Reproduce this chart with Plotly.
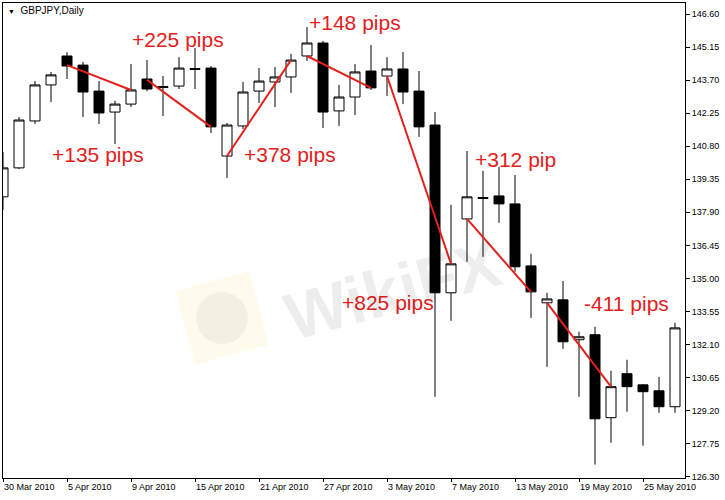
"""
GBPJPY daily candles (30 Mar - 27 May 2010) with swing lines and pip counts,
drawn in the MetaTrader style.
"""

import math

import pandas as pd
import plotly.graph_objects as go

##################################
## Data
##################################

dates = pd.bdate_range("2010-03-30", "2010-05-27")
date_labels = [f"{d.day} {d.strftime('%b %Y')}" for d in dates]

opens = [
    138.58, 139.85, 141.91, 143.49, 144.76, 144.36, 143.22, 142.30, 142.65, 143.75,
    143.42, 143.44, 144.21, 144.23, 140.37, 141.69, 143.22, 143.62, 143.84, 144.76,
    145.33, 142.35, 142.96, 144.10, 143.88, 144.19, 143.22, 141.73, 134.37, 137.61,
    138.55, 138.62, 138.27, 135.55, 133.93, 134.06, 132.31, 132.53, 128.89, 130.82,
    130.33, 130.07, 129.37,
]
highs = [
    140.55, 142.08, 143.66, 144.06, 144.93, 144.50, 143.66, 142.79, 144.41, 144.58,
    143.88, 144.71, 145.11, 144.32, 141.82, 143.62, 144.23, 144.28, 144.85, 146.03,
    145.42, 143.49, 144.41, 145.24, 144.71, 144.93, 144.10, 142.30, 138.23, 140.59,
    139.72, 139.89, 139.54, 136.08, 134.37, 134.89, 132.66, 132.88, 130.95, 131.43,
    130.36, 130.68, 133.05,
]
lows = [
    138.01, 139.80, 141.78, 142.74, 143.75, 142.08, 141.78, 140.90, 142.52, 143.22,
    142.13, 143.31, 143.31, 141.38, 139.41, 141.56, 142.70, 142.52, 143.14, 144.54,
    141.60, 141.69, 142.17, 143.27, 143.00, 142.65, 141.21, 129.81, 133.14, 135.73,
    135.95, 137.44, 135.29, 133.27, 131.12, 131.91, 129.81, 126.83, 127.79, 129.15,
    127.66, 129.11, 129.11,
]
closes = [
    139.85, 141.95, 143.49, 143.93, 144.32, 143.18, 142.26, 142.65, 143.27, 143.31,
    143.38, 144.23, 144.17, 141.65, 141.73, 143.18, 143.66, 143.84, 144.58, 145.33,
    142.30, 142.96, 144.06, 143.36, 144.19, 143.18, 141.65, 134.37, 135.64, 138.58,
    138.51, 138.27, 135.51, 134.41, 134.10, 132.22, 132.44, 128.84, 130.25, 130.25,
    130.03, 129.37, 132.83,
]

# swing lines: start bar, end bar, start price, end price
swing_start = [4, 9, 14, 19, 24, 29, 34]
swing_end = [8, 13, 18, 23, 28, 33, 38]
swing_p0 = [144.36, 143.71, 140.37, 144.76, 143.88, 137.61, 133.93]
swing_p1 = [143.27, 141.65, 144.58, 143.36, 135.64, 134.41, 130.25]

pip_labels = ["+135 pips", "+225 pips", "+378 pips", "+148 pips", "+825 pips", "+312 pip", "-411 pips"]
pip_x = [5.94, 10.94, 17.94, 22.0, 24.06, 32.0, 38.94]
pip_y = [140.42, 145.50, 140.42, 146.21, 133.93, 140.20, 133.89]

y_ticks = [146.60, 145.15, 143.70, 142.25, 140.80, 139.35, 137.90, 136.45, 135.00,
           133.55, 132.10, 130.65, 129.20, 127.75, 126.30]

RED = "#e3201b"
bars = list(range(len(dates)))

##################################
## Chart
##################################

fig = go.Figure()

fig.add_trace(
    go.Candlestick(
        x=bars,
        open=opens,
        high=highs,
        low=lows,
        close=closes,
        increasing=dict(fillcolor="white", line=dict(color="black", width=1)),
        decreasing=dict(fillcolor="black", line=dict(color="black", width=1)),
        whiskerwidth=0,
        showlegend=False,
        hoverinfo="skip",
    )
)

line_x, line_y = [], []
for a, b, p0, p1 in zip(swing_start, swing_end, swing_p0, swing_p1):
    line_x += [a, b, None]
    line_y += [p0, p1, None]

fig.add_trace(
    go.Scatter(
        x=line_x,
        y=line_y,
        mode="lines",
        line=dict(color=RED, width=2),
        showlegend=False,
        hoverinfo="skip",
    )
)

for txt, x, y in zip(pip_labels, pip_x, pip_y):
    fig.add_annotation(
        x=x, y=y, text=txt, showarrow=False,
        font=dict(family="Liberation Sans, Arial", size=21, color=RED),
    )

# watermark (pixel -> paper helpers)
def px(x):
    return (x - 3) / 682


def py(y):
    return (478 - y) / 475


cx, cy, half, ang = 222, 318, 38, math.radians(-15)
corners = []
for dx, dy in [(-1, -1), (1, -1), (1, 1), (-1, 1)]:
    rx = dx * half * math.cos(ang) - dy * half * math.sin(ang)
    ry = dx * half * math.sin(ang) + dy * half * math.cos(ang)
    corners.append(f"{px(cx + rx):.4f},{py(cy + ry):.4f}")
fig.add_shape(type="path", xref="paper", yref="paper",
              path="M " + " L ".join(corners) + " Z",
              fillcolor="rgba(250,225,150,0.18)", line=dict(width=0), layer="below")
fig.add_shape(type="circle", xref="paper", yref="paper",
              x0=px(196), x1=px(248), y0=py(344), y1=py(292),
              fillcolor="rgba(0,0,0,0.045)", line=dict(width=0), layer="below")
fig.add_annotation(
    xref="paper", yref="paper", x=px(392), y=py(290), text="<b>WikiFX</b>",
    showarrow=False, textangle=-15,
    font=dict(family="Liberation Sans, Arial", size=66, color="rgba(0,0,0,0.07)"),
)

fig.add_annotation(
    xref="paper", yref="paper", x=px(6), y=py(10), xanchor="left", yanchor="middle",
    text="<span style='font-size:7px'>▼</span>  GBPJPY,Daily", showarrow=False,
    font=dict(family="Liberation Sans, Arial", size=10, color="black"),
)

fig.update_layout(
    width=725,
    height=500,
    margin=dict(l=3, r=40, t=3, b=22),
    paper_bgcolor="white",
    plot_bgcolor="white",
    boxgap=0.375,
    boxgroupgap=0,
    font=dict(family="Liberation Sans, Arial", size=9, color="black"),
)

fig.update_xaxes(
    range=[0, 42.625],
    tickmode="array",
    tickvals=bars[::4],
    ticktext=date_labels[::4],
    ticklabelposition="outside right",
    ticks="outside",
    ticklen=3,
    tickcolor="black",
    showgrid=False,
    zeroline=False,
    showline=True,
    linecolor="black",
    linewidth=1,
    mirror=True,
    rangeslider=dict(visible=False),
)

fig.update_yaxes(
    side="right",
    range=[126.243, 147.085],
    tickmode="array",
    tickvals=y_ticks,
    ticktext=[f"{v:.2f}" for v in y_ticks],
    ticks="outside",
    ticklen=4,
    tickcolor="black",
    showgrid=False,
    zeroline=False,
    showline=True,
    linecolor="black",
    linewidth=1,
    mirror=True,
)

# page body has a default 8px margin; drop it so the chart sits at the window corner
fig.write_html(
    "out.html",
    config={"displayModeBar": False},
    post_script="document.body.style.margin = '0';",
)
